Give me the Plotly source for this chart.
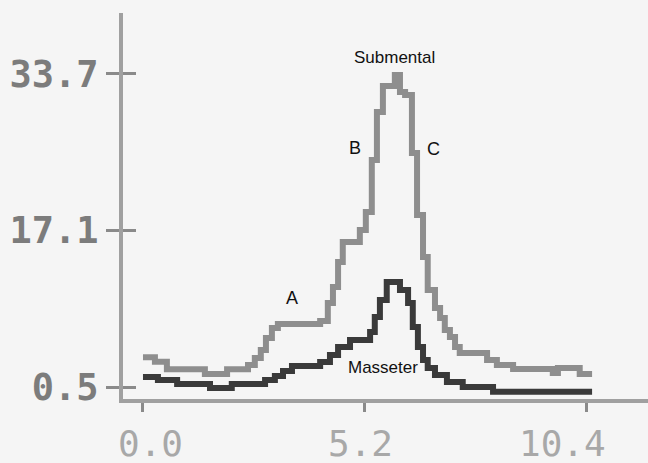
import plotly.graph_objects as go

# Submental (gray) step trace: x in s, y value
sub_x = [0.00, 0.28, 0.56, 1.45, 1.97, 2.46, 2.62, 2.76, 2.88, 3.02, 3.16, 4.15, 4.33, 4.45,
         4.57, 4.68, 5.08, 5.22, 5.36, 5.48, 5.62, 5.90, 6.02, 6.14, 6.30, 6.42, 6.56, 6.67,
         6.84, 6.96, 7.07, 7.19, 7.31, 7.42, 8.06, 8.29, 8.67, 9.60, 9.72, 10.23, 10.52]
sub_y = [3.66, 3.19, 2.39, 1.89, 2.39, 2.84, 3.59, 4.43, 5.71, 6.77, 7.19, 7.51, 9.41, 11.11,
         13.76, 15.88, 17.15, 19.06, 24.57, 29.65, 32.41, 33.57, 31.77, 31.46, 25.31, 18.74, 14.29, 10.79,
         8.88, 7.82, 6.55, 5.81, 4.75, 4.12, 3.37, 2.84, 2.42, 2.00, 2.53, 1.89, 1.89]

# Masseter (dark) step trace
mas_x = [0.00, 0.35, 0.80, 1.57, 2.08, 2.86, 3.09, 3.28, 3.49, 4.15, 4.38, 4.57, 4.85, 5.32,
         5.43, 5.55, 5.71, 6.02, 6.21, 6.32, 6.44, 6.56, 6.67, 6.84, 7.12, 7.49, 8.20, 10.52]
mas_y = [1.57, 1.25, 0.83, 0.41, 0.83, 1.25, 1.68, 2.21, 2.74, 3.16, 3.90, 4.75, 5.49, 6.34,
         7.93, 9.73, 11.64, 10.79, 9.41, 6.87, 4.75, 3.37, 2.53, 1.78, 1.04, 0.51, 0.00, 0.00]

y_ticks = [0.5, 17.1, 33.7]
y_tick_labels = ["0.5", "17.1", "33.7"]
x_ticks = [0.0, 5.2, 10.4]
x_tick_labels = ["0.0", "5.2", "10.4"]

labels_text = ["Submental", "B", "C", "A", "Masseter"]
labels_x = [5.90, 4.96, 6.81, 3.49, 5.62]
labels_y = [35.38, 25.84, 25.73, 9.94, 2.53]
labels_size = [17, 18, 18, 18, 17]

fig = go.Figure()
fig.add_trace(go.Scatter(x=sub_x, y=sub_y, mode="lines", line=dict(shape="hv", color="#8e8e8e", width=6),
                         showlegend=False, hoverinfo="skip"))
fig.add_trace(go.Scatter(x=mas_x, y=mas_y, mode="lines", line=dict(shape="hv", color="#3a3a3a", width=6),
                         showlegend=False, hoverinfo="skip"))
# empty trace so the overlaid tick axis (inner half of the crossing ticks) is drawn
fig.add_trace(go.Scatter(x=[], y=[], yaxis="y2", showlegend=False, hoverinfo="skip"))

for t, x, y, s in zip(labels_text, labels_x, labels_y, labels_size):
    fig.add_annotation(x=x, y=y, text=t, showarrow=False, xanchor="center", yanchor="middle",
                       font=dict(family="Liberation Sans, Arial", size=s, color="#111111"))

x_label_shift = [8, -4, -24]
for v, t, dx in zip(x_ticks, x_tick_labels, x_label_shift):
    fig.add_annotation(x=v, xref="x", y=0, yref="paper", yshift=-44, xshift=dx, text=t,
                       showarrow=False, xanchor="center", yanchor="middle",
                       font=dict(family="DejaVu Sans Mono", size=36, color="#a8a8a8"))

fig.update_layout(
    width=648, height=463,
    margin=dict(l=123, r=0, t=13, b=64),
    paper_bgcolor="#f5f5f5", plot_bgcolor="#f5f5f5",
    xaxis=dict(range=[-0.468, 11.83], tickvals=x_ticks, showticklabels=False,
               ticks="outside", ticklen=9, tickwidth=3, tickcolor="#8a8a8a",
               showline=True, linecolor="#a0a0a0", linewidth=4,
               showgrid=False, zeroline=False, fixedrange=True),
    yaxis=dict(range=[-0.76, 40.14], tickvals=y_ticks, ticktext=y_tick_labels,
               ticks="outside", ticklen=13, tickwidth=3, tickcolor="#8a8a8a",
               ticklabelstandoff=0,
               tickfont=dict(family="DejaVu Sans Mono", size=37, color="#7c7c7c", weight="bold"),
               showline=True, linecolor="#a0a0a0", linewidth=4,
               showgrid=False, zeroline=False, fixedrange=True),
    yaxis2=dict(range=[-0.76, 40.14], overlaying="y", side="left", tickvals=y_ticks,
                showticklabels=False, ticks="inside", ticklen=13, tickwidth=3, tickcolor="#8a8a8a",
                showline=False, showgrid=False, zeroline=False, fixedrange=True),
)
fig.write_html("out.html", config={"displayModeBar": False},
               post_script="document.body.style.margin='0';document.body.style.overflow='hidden';")
